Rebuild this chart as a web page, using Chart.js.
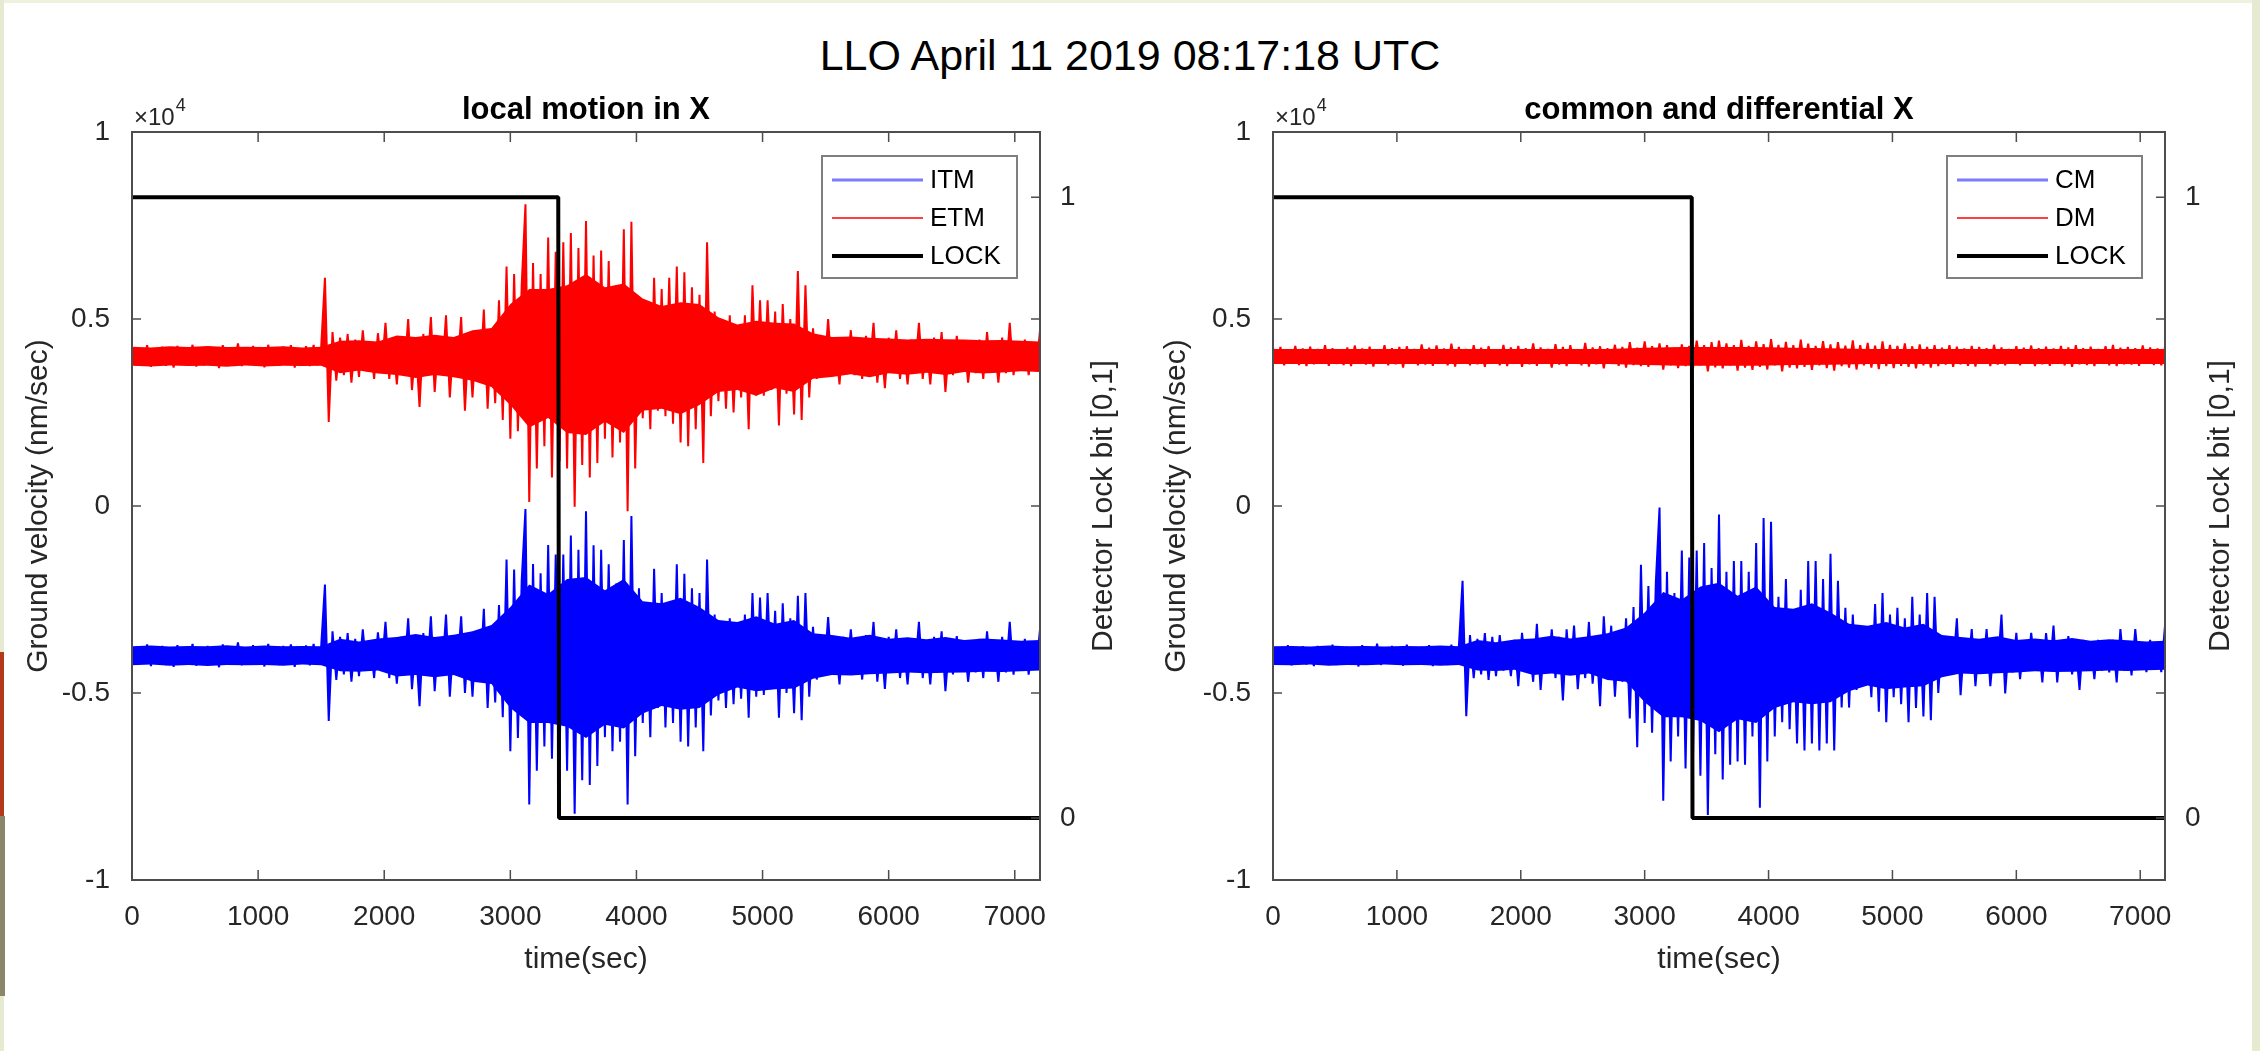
<!DOCTYPE html>
<html>
<head>
<meta charset="utf-8">
<title>LLO April 11 2019 08:17:18 UTC</title>
<script src="https://cdn.jsdelivr.net/npm/chart.js@4.4.1/dist/chart.umd.min.js"></script>
<style>
    html, body { margin: 0; padding: 0; background: #fff; }
    body { width: 2260px; height: 1051px; position: relative; overflow: hidden; font-family: "Liberation Sans", Arial, sans-serif; }
    .panel { position: absolute; top: 0; width: 1130px; height: 1051px; }
    #suptitle { position: absolute; top: 30px; left: 0; width: 2260px; text-align: center; font-size: 43px; line-height: 50px; color: #000; }
    .edge { position: absolute; }
</style>
</head>
<body>
<div class="edge" style="left:0;top:0;width:2260px;height:3px;background:#eef1dc"></div>
<div class="edge" style="left:0;top:0;width:4px;height:652px;background:#e6ead0"></div>
<div class="edge" style="left:0;top:652px;width:4px;height:164px;background:#b3391b"></div>
<div class="edge" style="left:0;top:816px;width:5px;height:180px;background:#8a866c"></div>
<div class="edge" style="left:0;top:996px;width:4px;height:55px;background:#e6ead0"></div>
<div class="edge" style="left:2252px;top:0;width:8px;height:1051px;background:#e6ead0"></div>

<div id="suptitle">LLO April 11 2019 08:17:18 UTC</div>
<div class="panel" style="left:0"><canvas id="localChart" width="1130" height="1051"></canvas></div>
<div class="panel" style="left:1130px"><canvas id="commonChart" width="1130" height="1051"></canvas></div>

<script>
// peaks, one every 30 s, in nm/sec
const sampleStep = 30;

const itm = [
    -3760,-4230,-3810,-4190,-3700,-4280,-3850,-4160,-3740,-4250,
    -3790,-4300,-3720,-4210,-3830,-4180,-3690,-4270,-3780,-4220,
    -3740,-4190,-3810,-4310,-3700,-4240,-3770,-4200,-3650,-4260,
    -3800,-4230,-3720,-4170,-3760,-4290,-3690,-4210,-3820,-4250,
    -3740,-4180,-3700,-4300,-3780,-4220,-3730,-4260,-3690,-4240,
    -3750,-2100,-5750,-3350,-4650,-3500,-4500,-3400,-4700,-3550,
    -4550,-3300,-4400,-3650,-4600,-3380,-4350,-3100,-4600,-3600,
    -4750,-3500,-4400,-3000,-4900,-3650,-5350,-3400,-4500,-2950,
    -4950,-3550,-4450,-2900,-5100,-3600,-4400,-2950,-5000,-3500,
    -5100,-3350,-4600,-2750,-5400,-3300,-5250,-2650,-5650,-1430,
    -6560,-1700,-6200,-2000,-80,-7980,-1550,-7080,-1800,-6430,
    -1040,-6760,-1300,-6820,-1300,-7080,-790,-8230,-1170,-7330,
    -140,-7460,-1050,-6950,-1170,-6180,-1560,-6560,-2070,-6300,
    -910,-7980,-270,-6690,-2200,-5800,-2700,-6180,-1680,-5400,
    -2330,-5920,-2600,-5800,-1560,-6300,-1810,-6430,-2200,-5920,
    -2330,-6560,-1430,-5600,-2900,-5200,-3100,-5400,-3000,-5300,
    -3200,-5150,-2900,-5660,-2330,-5100,-2450,-5050,-2330,-4900,
    -2800,-5660,-2600,-5000,-3000,-5540,-2400,-5730,-2330,-5100,
    -3230,-4640,-3600,-4400,-2970,-4500,-3650,-4770,-3500,-4350,
    -3300,-4500,-3650,-4640,-3450,-4300,-3100,-4700,-3600,-4890,
    -3500,-4400,-3300,-4600,-3700,-4770,-3550,-4350,-3100,-4600,
    -3650,-4770,-3500,-4400,-3350,-4950,-3700,-4500,-3480,-4350,
    -3600,-4700,-3750,-4450,-3550,-4600,-3350,-4400,-3700,-4700,
    -3500,-4450,-3100,-4510,-3700,-4350,-3550,-4510,-3750,-4380,
    -3300
];

const etm = [
    4250,3780,4200,3760,4300,3720,4180,3840,4260,3750,
    4210,3700,4280,3790,4170,3820,4310,3730,4220,3760,
    4260,3810,4190,3690,4300,3760,4230,3800,4350,3740,
    4200,3770,4280,3830,4240,3710,4310,3790,4180,3750,
    4260,3820,4300,3700,4220,3780,4270,3740,4310,3760,
    4250,6100,2250,4650,3350,4500,3500,4600,3300,4450,
    3450,4700,3600,4350,3400,4620,3650,4900,3400,4400,
    3250,4500,3600,5000,3100,4350,2650,4600,3500,5050,
    3050,4450,3550,5100,2900,4400,3600,5050,2550,4500,
    2900,4650,3400,5250,2600,4700,2750,5500,2300,6400,
    1800,6200,2000,5900,8070,110,6500,1000,6200,1600,
    7180,760,6800,1200,7050,1000,7300,-20,6900,1100,
    7620,760,6700,1150,6830,1800,6550,1300,5900,1700,
    7400,-140,7600,1000,5500,2350,5000,2050,6100,2550,
    5800,2400,6100,2200,6400,1700,6250,1600,5850,2050,
    5650,1150,7050,2400,5200,2800,5000,2600,5100,2500,
    4800,2900,5100,2050,5900,2950,5500,2950,5500,3100,
    5200,2150,5400,3000,5000,2450,6280,2300,5900,2900,
    4750,3400,4400,3600,5000,3500,4350,3250,4500,3650,
    4700,3500,4350,3400,4550,3700,4900,3300,4400,3150,
    4500,3600,4700,3400,4300,3250,4450,3650,4900,3400,
    4350,3250,4500,3600,4650,3050,4300,3500,4550,3650,
    4400,3300,4250,3550,4450,3400,4650,3600,4300,3300,
    4500,3550,4900,3500,4300,3650,4450,3500,4250,3600,
    4700
];

const cm = [
    -3780,-4220,-3830,-4170,-3720,-4260,-3860,-4180,-3750,-4240,
    -3800,-4280,-3740,-4200,-3850,-4160,-3710,-4250,-3790,-4210,
    -3760,-4180,-3820,-4290,-3720,-4230,-3790,-4190,-3680,-4250,
    -3810,-4220,-3740,-4160,-3780,-4270,-3710,-4200,-3830,-4240,
    -3760,-4170,-3720,-4280,-3790,-4210,-3750,-4250,-3710,-4230,
    -3770,-2000,-5620,-3450,-4600,-3550,-4500,-3400,-4650,-3500,
    -4550,-3450,-4400,-3650,-4550,-3580,-4820,-3390,-4350,-3700,
    -4700,-3150,-4920,-3650,-4400,-3300,-4600,-3500,-5200,-3300,
    -4500,-3200,-4900,-3650,-4600,-3100,-4750,-3550,-5350,-2950,
    -4600,-3200,-5100,-3500,-4700,-3000,-5680,-2700,-6450,-1570,
    -5800,-2140,-6060,-2050,-40,-7880,-1760,-6830,-2330,-6160,
    -1190,-7020,-1380,-6730,-1190,-7210,-990,-8260,-1660,-6640,
    -230,-7310,-1760,-6920,-1470,-6830,-1470,-6920,-1760,-6160,
    -990,-8070,-320,-6830,-420,-6160,-2430,-5780,-1950,-5970,
    -2900,-6350,-2240,-6540,-1470,-6350,-1470,-6540,-1950,-6350,
    -1280,-6540,-2000,-5390,-2720,-5390,-2900,-4920,-3670,-4530,
    -3500,-5110,-2620,-5500,-2330,-5780,-2900,-5110,-2720,-5300,
    -3000,-5780,-2430,-5400,-2900,-5630,-2330,-5730,-2430,-5000,
    -3480,-4530,-3700,-4350,-3000,-5060,-3650,-4400,-3290,-4820,
    -3600,-4450,-3290,-4820,-3700,-4350,-2900,-5010,-3650,-4450,
    -3390,-4630,-3700,-4400,-3390,-4300,-3650,-4720,-3400,-4400,
    -3200,-4720,-3650,-4350,-3480,-4500,-3700,-4920,-3580,-4400,
    -3700,-4630,-3580,-4400,-3700,-4450,-3580,-4720,-3290,-4400,
    -3650,-4530,-3290,-4350,-3700,-4440,-3580,-4300,-3700,-4440,
    -3200
];

const dm = [
    4230,3800,4250,3760,4190,3820,4280,3770,4210,3740,
    4260,3790,4200,3830,4300,3750,4220,3800,4180,3770,
    4240,3740,4290,3810,4210,3780,4260,3730,4190,3820,
    4300,3760,4220,3790,4250,3700,4270,3810,4200,3760,
    4320,3780,4230,3750,4290,3810,4210,3760,4340,3730,
    4250,3800,4200,3760,4300,3790,4230,3720,4270,3810,
    4190,3760,4310,3740,4240,3800,4280,3720,4220,3790,
    4350,3750,4240,3810,4200,3700,4330,3780,4250,3740,
    4300,3810,4190,3760,4360,3730,4240,3790,4270,3680,
    4220,3800,4310,3750,4250,3700,4380,3770,4230,3740,
    4400,3720,4270,3790,4350,3650,4300,3760,4230,3690,
    4320,3740,4280,3670,4420,3760,4300,3600,4380,3710,
    4420,3680,4350,3760,4300,3620,4440,3700,4280,3640,
    4400,3720,4330,3650,4460,3760,4310,3600,4390,3700,
    4300,3680,4450,3720,4340,3640,4280,3760,4410,3690,
    4320,3620,4380,3740,4290,3700,4430,3650,4300,3760,
    4360,3700,4290,3660,4400,3740,4310,3690,4280,3750,
    4350,3720,4270,3680,4320,3760,4250,3700,4300,3740,
    4230,3780,4300,3720,4260,3790,4210,3750,4280,3730,
    4250,3800,4220,3740,4310,3780,4240,3760,4200,3800,
    4270,3760,4230,3810,4290,3740,4220,3790,4260,3750,
    4210,3800,4280,3760,4240,3720,4300,3790,4220,3770,
    4260,3740,4200,3800,4270,3760,4310,3740,4230,3790,
    4250,3780,4220,3750,4290,3800,4240,3770,4210,3760,
    4250
];

// offsets the traces were plotted around (nm/sec)
const blueOffset = -4000;
const redOffset = 4000;

// edges of the dense, solid-looking part of each trace, one every 150 s
const coreStep = 150;
const itmCoreHi = [
    -3750,-3730,-3760,-3740,-3750,-3720,-3760,-3730,-3750,-3740,
    -3750,-3550,-3620,-3540,-3500,-3420,-3500,-3440,-3350,-3180,
    -2700,-2100,-2350,-1950,-1900,-2250,-1950,-2550,-2600,-2450,
    -2700,-3050,-3100,-2950,-3150,-3050,-3400,-3450,-3520,-3440,
    -3550,-3510,-3560,-3500,-3580,-3540,-3570,-3600,-3580
];
const itmCoreLo = [
    -4260,-4240,-4270,-4250,-4280,-4250,-4260,-4250,-4270,-4240,
    -4260,-4420,-4430,-4400,-4560,-4520,-4580,-4520,-4700,-4760,
    -5400,-5800,-5800,-5900,-6200,-5850,-5950,-5550,-5350,-5450,
    -5400,-5050,-4850,-4950,-4900,-4880,-4620,-4520,-4530,-4500,
    -4480,-4450,-4470,-4460,-4450,-4430,-4440,-4420,-4400
];
const etmCoreHi = [
    4260,4240,4270,4250,4280,4250,4260,4250,4270,4240,
    4260,4420,4430,4400,4560,4520,4580,4520,4700,4760,
    5400,5800,5800,5900,6200,5850,5950,5550,5350,5450,
    5400,5050,4850,4950,4900,4880,4620,4520,4530,4500,
    4480,4450,4470,4460,4450,4430,4440,4420,4400
];
const etmCoreLo = [
    3750,3730,3760,3740,3750,3720,3760,3730,3750,3740,
    3750,3550,3620,3540,3500,3420,3500,3440,3350,3180,
    2700,2100,2350,1950,1900,2250,1950,2550,2600,2450,
    2700,3050,3100,2950,3150,3050,3400,3450,3520,3440,
    3550,3510,3560,3500,3580,3540,3570,3600,3580
];
const cmCoreHi = [
    -3750,-3740,-3760,-3730,-3750,-3740,-3760,-3740,-3750,-3730,
    -3750,-3580,-3640,-3570,-3540,-3470,-3540,-3480,-3400,-3250,
    -2850,-2300,-2500,-2150,-2050,-2400,-2150,-2700,-2750,-2600,
    -2850,-3150,-3200,-3100,-3250,-3150,-3450,-3500,-3550,-3480,
    -3580,-3540,-3590,-3530,-3600,-3560,-3590,-3620,-3600
];
const cmCoreLo = [
    -4250,-4260,-4240,-4270,-4250,-4260,-4240,-4260,-4250,-4270,
    -4250,-4400,-4410,-4380,-4520,-4480,-4540,-4480,-4650,-4700,
    -5250,-5650,-5650,-5750,-6050,-5700,-5800,-5400,-5250,-5300,
    -5250,-4950,-4800,-4900,-4850,-4820,-4580,-4480,-4500,-4470,
    -4450,-4420,-4440,-4430,-4420,-4400,-4410,-4390,-4380
];
// DM barely changes, so its band is read every 300 s
const dmCoreStep = 300;
const dmCoreHi = [4200,4200,4200,4200,4200,4200,4200,4200,4200,4200,4230,4250,4250,4250,4230,4220,4200,4200,4200,4200,4200,4200,4200,4200,4200];
const dmCoreLo = [3800,3800,3800,3800,3800,3800,3800,3800,3800,3800,3770,3750,3750,3750,3770,3780,3800,3800,3800,3800,3800,3800,3800,3800,3800];

// detector lock bit: locked until ~3380 s, then lost
const lockTimes = [0, 3380, 3386, 7200];
const lockBit = [1, 1, 0, 0];

const timeTicks = [0, 1000, 2000, 3000, 4000, 5000, 6000, 7000];
const velocityTicks = [-10000, -5000, 0, 5000, 10000];
const lockTicks = [0, 1];

Chart.defaults.font.family = '"Liberation Sans", Arial, sans-serif';
Chart.defaults.color = '#262626';

function toPoints(values, step) {
    return values.map((v, i) => ({ x: i * step, y: v }));
}

// MATLAB-like box, inward ticks, x10^4 label, boxed legend and right axis title
const matlabAxes = {
    id: 'matlabAxes',
    afterDraw(chart, args, opts) {
        const { ctx, chartArea: a, scales } = chart;
        ctx.save();

        ctx.strokeStyle = '#4d4d4d';
        ctx.lineWidth = 2;
        ctx.strokeRect(a.left, a.top, a.right - a.left, a.bottom - a.top);

        ctx.lineWidth = 1.5;
        ctx.beginPath();
        scales.x.ticks.forEach(t => {
            const px = scales.x.getPixelForValue(t.value);
            ctx.moveTo(px, a.bottom);
            ctx.lineTo(px, a.bottom - 10);
            ctx.moveTo(px, a.top);
            ctx.lineTo(px, a.top + 10);
        });
        scales.y.ticks.forEach(t => {
            const py = scales.y.getPixelForValue(t.value);
            ctx.moveTo(a.left, py);
            ctx.lineTo(a.left + 9, py);
            ctx.moveTo(a.right, py);
            ctx.lineTo(a.right - 9, py);
        });
        scales.y2.ticks.forEach(t => {
            const py = scales.y2.getPixelForValue(t.value);
            ctx.moveTo(a.right, py);
            ctx.lineTo(a.right - 9, py);
        });
        ctx.stroke();

        // exponent label above the left axis
        ctx.fillStyle = '#262626';
        ctx.textBaseline = 'alphabetic';
        ctx.textAlign = 'left';
        ctx.font = '24px "Liberation Sans", Arial, sans-serif';
        ctx.fillText('\u00d710', a.left + 2, a.top - 7);
        const w = ctx.measureText('\u00d710').width;
        ctx.font = '18px "Liberation Sans", Arial, sans-serif';
        ctx.fillText('4', a.left + 3 + w, a.top - 21);

        // legend box
        const bx = a.right - 218, by = a.top + 24, bw = 195, bh = 122;
        ctx.fillStyle = '#fff';
        ctx.fillRect(bx, by, bw, bh);
        ctx.strokeStyle = '#7f7f7f';
        ctx.lineWidth = 2;
        ctx.strokeRect(bx, by, bw, bh);
        ctx.font = '26px "Liberation Sans", Arial, sans-serif';
        ctx.textBaseline = 'middle';
        chart.data.datasets.filter(ds => !ds.core).forEach((ds, i) => {
            const ly = by + 24 + i * 38;
            ctx.strokeStyle = ds.legendColor || ds.borderColor;
            ctx.lineWidth = ds.legendWidth || ds.borderWidth;
            ctx.beginPath();
            ctx.moveTo(bx + 10, ly);
            ctx.lineTo(bx + 101, ly);
            ctx.stroke();
            ctx.fillStyle = '#000';
            ctx.fillText(ds.label, bx + 108, ly + 1);
        });

        // right axis title, reading bottom to top
        ctx.translate(a.right + opts.rightTitleOffset, (a.top + a.bottom) / 2);
        ctx.rotate(-Math.PI / 2);
        ctx.textAlign = 'center';
        ctx.font = '30px "Liberation Sans", Arial, sans-serif';
        ctx.fillStyle = '#262626';
        ctx.fillText(opts.rightTitle, 0, 0);
        ctx.restore();
    }
};

function coreBand(band, color) {
    const [hi, lo, step] = band;
    return [
        { core: true, data: toPoints(hi, step), borderWidth: 0, borderColor: color, backgroundColor: color, fill: '+1', order: 3 },
        { core: true, data: toPoints(lo, step), borderWidth: 0, borderColor: color, backgroundColor: color, fill: false, order: 3 }
    ];
}

function makeChart(id, title, names, blue, red, blueCore, redCore, layout) {
    const ctx = document.getElementById(id).getContext('2d');
    return new Chart(ctx, {
        type: 'line',
        data: {
            datasets: [
                {
                    label: names[0],
                    data: toPoints(blue, sampleStep),
                    borderColor: '#0000ff',
                    backgroundColor: '#0000ff',
                    fill: { value: blueOffset },
                    legendColor: '#7b7bff',
                    legendWidth: 3,
                    borderWidth: 2,
                    order: 2
                },
                {
                    label: names[1],
                    data: toPoints(red, sampleStep),
                    borderColor: '#ff0000',
                    backgroundColor: '#ff0000',
                    fill: { value: redOffset },
                    legendWidth: 1.5,
                    borderWidth: 2,
                    order: 1
                },
                {
                    label: 'LOCK',
                    data: lockTimes.map((t, i) => ({ x: t, y: lockBit[i] })),
                    borderColor: '#000000',
                    borderWidth: 4,
                    yAxisID: 'y2',
                    order: 0
                },
                ...coreBand(blueCore, '#0000ff'),
                ...coreBand(redCore, '#ff0000')
            ]
        },
        options: {
            responsive: false,
            animation: false,
            parsing: false,
            elements: {
                point: { radius: 0 },
                line: { tension: 0, borderJoinStyle: 'bevel' }
            },
            layout: { padding: 0 },
            scales: {
                x: {
                    type: 'linear',
                    min: 0,
                    max: 7200,
                    grid: { display: false },
                    border: { display: false },
                    afterBuildTicks: s => { s.ticks = timeTicks.map(v => ({ value: v })); },
                    ticks: { padding: 12, maxRotation: 0, autoSkip: false, font: { size: 28 }, callback: v => v },
                    title: { display: true, text: 'time(sec)', font: { size: 30 }, padding: { top: 0, bottom: 73 } },
                    afterFit: s => { s.height = 171; }
                },
                y: {
                    position: 'left',
                    min: -10000,
                    max: 10000,
                    grid: { display: false },
                    border: { display: false },
                    afterBuildTicks: s => { s.ticks = velocityTicks.map(v => ({ value: v })); },
                    ticks: { padding: 14, font: { size: 28 }, callback: v => v / 10000 },
                    title: { display: true, text: 'Ground velocity (nm/sec)', font: { size: 30 }, padding: { top: layout.yTitlePad, bottom: 0 } },
                    afterFit: s => { s.width = layout.left; }
                },
                y2: {
                    position: 'right',
                    min: -0.1,
                    max: 1.105,
                    grid: { display: false },
                    border: { display: false },
                    afterBuildTicks: s => { s.ticks = lockTicks.map(v => ({ value: v })); },
                    ticks: { padding: 12, font: { size: 28 }, callback: v => v },
                    afterFit: s => { s.width = layout.right; }
                }
            },
            plugins: {
                legend: { display: false },
                tooltip: { enabled: false },
                title: {
                    display: true,
                    text: title,
                    fullSize: false,
                    color: '#000',
                    font: { size: 31, weight: 'bold', lineHeight: 1.2 },
                    padding: { top: 92, bottom: 2.8 }
                },
                matlabAxes: {
                    rightTitle: 'Detector Lock bit [0,1]',
                    rightTitleOffset: layout.rightTitle
                }
            }
        },
        plugins: [matlabAxes]
    });
}

makeChart('localChart', 'local motion in X', ['ITM', 'ETM'], itm, etm,
    [itmCoreHi, itmCoreLo, coreStep], [etmCoreHi, etmCoreLo, coreStep],
    { left: 132, right: 90, yTitlePad: 21, rightTitle: 64 });
makeChart('commonChart', 'common and differential X', ['CM', 'DM'], cm, dm,
    [cmCoreHi, cmCoreLo, coreStep], [dmCoreHi, dmCoreLo, dmCoreStep],
    { left: 143, right: 95, yTitlePad: 29, rightTitle: 56 });
</script>
</body>
</html>
